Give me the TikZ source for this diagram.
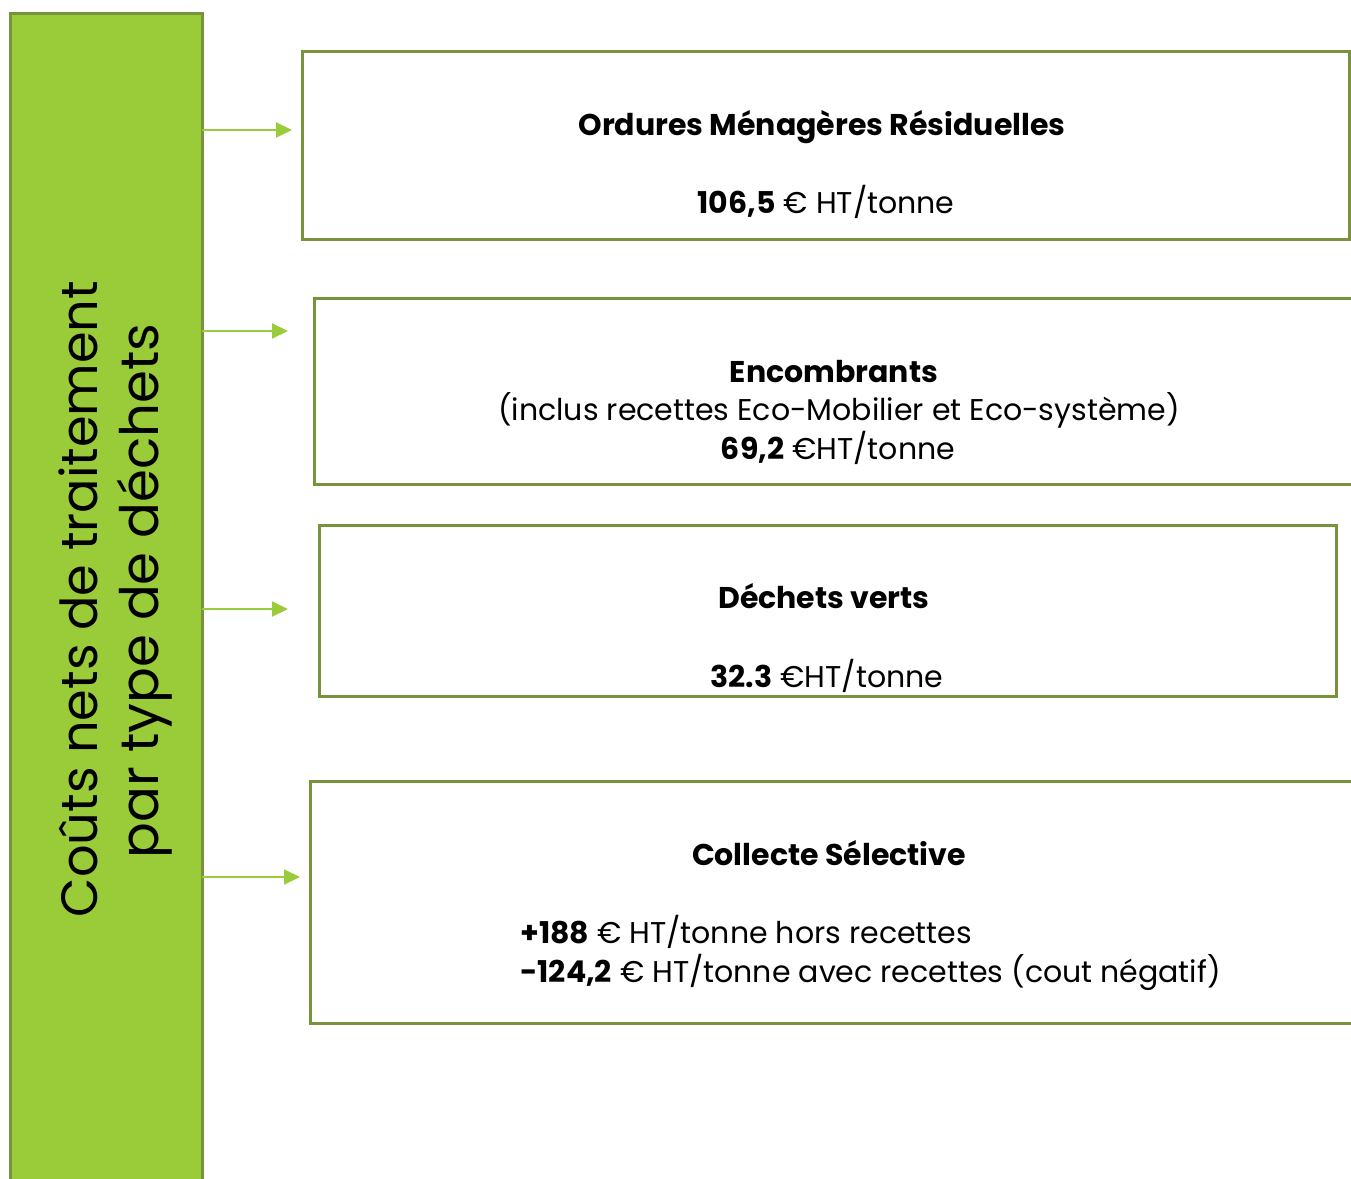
\documentclass[tikz,border=0pt]{standalone}
\usepackage{fontspec}
\setmainfont{Poppins}
\usetikzlibrary{arrows.meta}
\definecolor{leaf}{HTML}{9ACC3A}
\definecolor{olive}{HTML}{77933C}
\definecolor{arrowgreen}{HTML}{9ACC3A}
\tikzset{
  sidebar/.style={fill=leaf, draw=olive, line width=3pt},
  costbox/.style={draw=olive, line width=3pt, fill=white},
  conn/.style={draw=arrowgreen, line width=2pt, -{Triangle[length=16pt,width=15pt]}},
  lbl/.style={anchor=base, inner sep=0pt, font=\fontsize{30}{34}\selectfont},
  vlbl/.style={anchor=base, inner sep=0pt, rotate=90},
}
\begin{document}
\begin{tikzpicture}[x=1pt,y=-1pt]
\useasboundingbox (0,0) rectangle (1351,1178);
% side bar
\path[sidebar] (10.5,13.5) rectangle (202,1190);
\coordinate (barE1) at (202,130);
\coordinate (barE2) at (202,331);
\coordinate (barE3) at (202,609);
\coordinate (barE4) at (202,877);
\node[vlbl, font=\fontsize{51}{60}\selectfont] (v1) at (97,599) {Coûts nets de traitement};
\node[vlbl, font=\fontsize{53}{60}\selectfont] (v2) at (158,591) {par type de déchets};
% boxes
\path[costbox] (302.5,51.5) rectangle (1349.5,239.5);
\path[costbox] (314.5,298.5) rectangle (1360,484.5);
\path[costbox] (319.5,525.5) rectangle (1336.5,696.5);
\path[costbox] (310.5,781.5) rectangle (1360,1023.5);
% arrow tips
\coordinate (t1) at (292,130);
\coordinate (t2) at (288,331);
\coordinate (t3) at (288,609);
\coordinate (t4) at (300,877);
\draw[conn] (barE1) -- (t1);
\draw[conn] (barE2) -- (t2);
\draw[conn] (barE3) -- (t3);
\draw[conn] (barE4) -- (t4);
% texts
\node[lbl] (a1) at (822,135) {\textbf{Ordures Ménagères Résiduelles}};
\node[lbl] (a2) at (826,213) {\textbf{106,5} € HT/tonne};
\node[lbl] (b1) at (834,382) {\textbf{Encombrants}};
\node[lbl] (b2) at (839,420) {(inclus recettes Eco-Mobilier et Eco-système)};
\node[lbl] (b3) at (838,459) {\textbf{69,2} €HT/tonne};
\node[lbl] (c1) at (824,608) {\textbf{Déchets verts}};
\node[lbl] (c2) at (827,687) {\textbf{32.3} €HT/tonne};
\node[lbl] (d1) at (829,865) {\textbf{Collecte Sélective}};
\node[lbl, anchor=base west] (d2) at (520,943) {\textbf{+188} € HT/tonne hors recettes};
\node[lbl, anchor=base west] (d3) at (520,982) {\textbf{-124,2} € HT/tonne avec recettes (cout négatif)};
\end{tikzpicture}
\end{document}
